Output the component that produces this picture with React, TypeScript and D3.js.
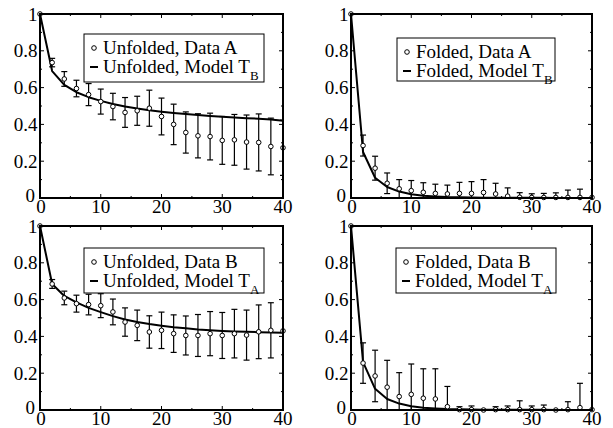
import React from "react";
import * as d3 from "d3";

// shared x positions (lag) for every series
const xs = [0, 2, 4, 6, 8, 10, 12, 14, 16, 18, 20, 22, 24, 26, 28, 30, 32, 34, 36, 38, 40];
const xTicks = [0, 10, 20, 30, 40];
const yTicks = [0, 0.2, 0.4, 0.6, 0.8, 1];
const yTickLabels = ["0", "0.2", "0.4", "0.6", "0.8", "1"];

// Unfolded, Data A
const unfoldedA = [1, 0.736, 0.647, 0.595, 0.562, 0.524, 0.497, 0.465, 0.474, 0.488, 0.443, 0.4, 0.356, 0.338, 0.334, 0.313, 0.316, 0.304, 0.302, 0.28, 0.273];
const unfoldedAErr = [0, 0.023, 0.04, 0.045, 0.06, 0.068, 0.072, 0.081, 0.079, 0.098, 0.1, 0.11, 0.112, 0.12, 0.127, 0.13, 0.138, 0.147, 0.155, 0.154, 0.15];
const modelTB_unfolded = [1, 0.69, 0.615, 0.575, 0.548, 0.528, 0.511, 0.497, 0.486, 0.477, 0.469, 0.462, 0.456, 0.451, 0.446, 0.442, 0.438, 0.434, 0.431, 0.427, 0.42];

// Folded, Data A
const foldedA = [1, 0.285, 0.162, 0.08, 0.05, 0.04, 0.031, 0.025, 0.022, 0.025, 0.025, 0.03, 0.022, 0.01, 0.004, 0.003, 0.003, 0.003, 0.003, 0.003, 0.003];
const foldedAErr = [0, 0.057, 0.065, 0.056, 0.05, 0.055, 0.052, 0.05, 0.048, 0.06, 0.064, 0.07, 0.058, 0.045, 0.025, 0.02, 0.022, 0.025, 0.04, 0.045, 0];
const modelTB_folded = [1, 0.25, 0.11, 0.06, 0.035, 0.02, 0.012, 0.008, 0.005, 0.004, 0.003, 0.002, 0.002, 0.001, 0.001, 0.001, 0.001, 0, 0, 0, 0];

// Unfolded, Data B
const unfoldedB = [1, 0.685, 0.609, 0.578, 0.573, 0.567, 0.533, 0.478, 0.46, 0.424, 0.433, 0.415, 0.405, 0.405, 0.415, 0.405, 0.415, 0.407, 0.425, 0.433, 0.43];
const unfoldedBErr = [0, 0.024, 0.037, 0.046, 0.056, 0.065, 0.07, 0.077, 0.083, 0.088, 0.099, 0.102, 0.106, 0.114, 0.12, 0.125, 0.132, 0.136, 0.146, 0.15, 0];
const modelTA_unfolded = [1, 0.685, 0.62, 0.585, 0.555, 0.532, 0.51, 0.492, 0.478, 0.467, 0.458, 0.45, 0.444, 0.438, 0.434, 0.43, 0.427, 0.425, 0.423, 0.421, 0.42];

// Folded, Data B
const foldedB = [1, 0.255, 0.185, 0.124, 0.073, 0.085, 0.064, 0.06, 0.018, 0.002, 0.002, 0, 0.002, 0.002, 0.002, 0.002, 0.002, 0, 0.002, 0.013, 0.002];
const foldedBErr = [0, 0.11, 0.14, 0.146, 0.13, 0.165, 0.16, 0.164, 0.11, 0.016, 0.02, 0, 0.016, 0.02, 0.048, 0.02, 0.025, 0, 0.043, 0.132, 0];
const modelTA_folded = [1, 0.26, 0.115, 0.06, 0.035, 0.02, 0.012, 0.008, 0.005, 0.004, 0.003, 0.002, 0.002, 0.001, 0.001, 0.001, 0.001, 0, 0, 0, 0];

const FONT = "'Liberation Serif', 'Times New Roman', serif";

type PanelProps = {
  id: string;
  left: number;
  right: number;
  top: number;
  bottom: number;
  data: number[];
  err: number[];
  model: number[];
  label1: string;
  label2: string;
  sub: string;
  box: [number, number, number, number]; // x, y, w, h
};

const Panel = ({ id, left, right, top, bottom, data, err, model, label1, label2, sub, box }: PanelProps) => {
  const x = d3.scaleLinear().domain([0, 40]).range([left, right]);
  const y = d3.scaleLinear().domain([0, 1]).range([bottom, top]);
  const line = d3
    .line<number>()
    .x((_, i) => x(xs[i]))
    .y((d) => y(d));

  const xMinor = d3.range(5, 40, 10);
  const yMinor = d3.range(0.1, 1, 0.2);
  const [bx, by, bw, bh] = box;

  return (
    <g>
      <defs>
        <clipPath id={id}>
          <rect x={left} y={top - 4} width={right - left} height={bottom - top + 4} />
        </clipPath>
      </defs>

      {/* ticks on all four sides, pointing in */}
      <g stroke="#000" strokeWidth={1}>
        {xTicks.map((t) => (
          <g key={"xt" + t}>
            <line x1={x(t)} x2={x(t)} y1={bottom} y2={bottom - 4} />
            <line x1={x(t)} x2={x(t)} y1={top} y2={top + 4} />
          </g>
        ))}
        {xMinor.map((t) => (
          <g key={"xm" + t}>
            <line x1={x(t)} x2={x(t)} y1={bottom} y2={bottom - 2} />
            <line x1={x(t)} x2={x(t)} y1={top} y2={top + 2} />
          </g>
        ))}
        {yTicks.map((t) => (
          <g key={"yt" + t}>
            <line x1={left} x2={left + 4} y1={y(t)} y2={y(t)} />
            <line x1={right} x2={right - 4} y1={y(t)} y2={y(t)} />
          </g>
        ))}
        {yMinor.map((t) => (
          <g key={"ym" + t}>
            <line x1={left} x2={left + 2} y1={y(t)} y2={y(t)} />
            <line x1={right} x2={right - 2} y1={y(t)} y2={y(t)} />
          </g>
        ))}
      </g>

      {/* legend */}
      <rect x={bx} y={by} width={bw} height={bh} fill="#fff" stroke="#000" strokeWidth={1} />
      <circle cx={bx + 10} cy={by + 14} r={2.3} fill="#fff" stroke="#000" strokeWidth={1} />
      <line x1={bx + 6} x2={bx + 14} y1={by + 33} y2={by + 33} stroke="#000" strokeWidth={2} />
      <g fontFamily={FONT} fontSize={19} fill="#000">
        <text x={bx + 19} y={by + 20}>{label1}</text>
        <text x={bx + 19} y={by + 39}>
          {label2}
          <tspan fontSize={13} dy={7}>{sub}</tspan>
        </text>
      </g>

      {/* error bars */}
      <g clipPath={`url(#${id})`} stroke="#000" strokeWidth={1.2}>
        {data.map((d, i) =>
          err[i] > 0 ? (
            <g key={"e" + i}>
              <line x1={x(xs[i])} x2={x(xs[i])} y1={y(d - err[i])} y2={y(d + err[i])} />
              <line x1={x(xs[i]) - 3} x2={x(xs[i]) + 3} y1={y(d + err[i])} y2={y(d + err[i])} />
              <line x1={x(xs[i]) - 3} x2={x(xs[i]) + 3} y1={y(d - err[i])} y2={y(d - err[i])} />
            </g>
          ) : null
        )}
      </g>

      {/* model curve */}
      <path d={line(model) || ""} fill="none" stroke="#000" strokeWidth={2} strokeLinejoin="round" />

      {/* data points */}
      {data.map((d, i) => (
        <circle key={"p" + i} cx={x(xs[i])} cy={y(d)} r={2.3} fill="#fff" stroke="#000" strokeWidth={1} />
      ))}

      {/* frame */}
      <rect x={left} y={top} width={right - left} height={bottom - top} fill="none" stroke="#000" strokeWidth={2} />

      {/* tick labels */}
      <g fontFamily={FONT} fontSize={19} fill="#000">
        {xTicks.map((t) => (
          <text key={"xl" + t} x={x(t) + (t === 0 ? 1 : 0)} y={bottom + 15} textAnchor="middle">
            {t}
          </text>
        ))}
        {yTicks.map((t, i) => (
          <text key={"yl" + t} x={left - (t === 0 ? 5 : 2.5)} y={y(t)} dy={t === 0 ? "0.2em" : "0.35em"} textAnchor="end">
            {yTickLabels[i]}
          </text>
        ))}
      </g>
    </g>
  );
};

export default function App() {
  return (
    <svg width={613} height={428} style={{ position: "absolute", left: 0, top: 0, background: "#fff" }}>
      <Panel id="c1" left={40} right={283} top={14} bottom={198} data={unfoldedA} err={unfoldedAErr}
        model={modelTB_unfolded} label1="Unfolded, Data A" label2="Unfolded, Model T" sub="B" box={[84, 34, 180, 48]} />
      <Panel id="c2" left={351} right={592} top={14} bottom={198} data={foldedA} err={foldedAErr}
        model={modelTB_folded} label1="Folded, Data A" label2="Folded, Model T" sub="B" box={[397, 38, 158, 43]} />
      <Panel id="c3" left={40} right={283} top={226} bottom={410} data={unfoldedB} err={unfoldedBErr}
        model={modelTA_unfolded} label1="Unfolded, Data B" label2="Unfolded, Model T" sub="A" box={[84, 248, 180, 45]} />
      <Panel id="c4" left={351} right={592} top={226} bottom={410} data={foldedB} err={foldedBErr}
        model={modelTA_folded} label1="Folded, Data B" label2="Folded, Model T" sub="A" box={[396, 248, 160, 45]} />
    </svg>
  );
}
